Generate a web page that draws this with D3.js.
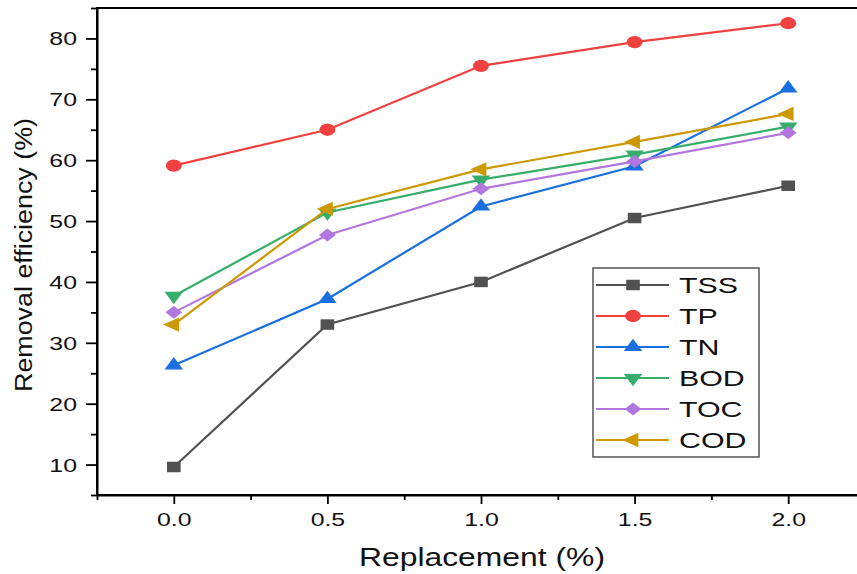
<!DOCTYPE html>
<html lang="en">
<head>
  <meta charset="UTF-8">
  <title>Removal efficiency vs replacement</title>
  <script src="https://d3js.org/d3.v7.min.js"></script>
  <style>
    body { margin: 0; background: #fff; }
    text { font-family: "Liberation Sans", Arial, sans-serif; fill: #111; }
    .axis path, .axis line { stroke: #000; }
    .line { fill: none; stroke-width: 2.2px; }
  </style>
</head>
<body>
  <svg width="857" height="574"></svg>
  <script>
    // data
    var replacement = [0, 0.5, 1.0, 1.5, 2.0];
    var tss = [9.6, 33.0, 40.0, 50.5, 55.8];
    var tp  = [59.1, 65.0, 75.5, 79.4, 82.5];
    var tn  = [26.3, 37.2, 52.4, 59.0, 71.8];
    var bod = [37.7, 51.4, 56.8, 60.9, 65.5];
    var toc = [35.0, 47.7, 55.3, 59.8, 64.5];
    var cod = [33.0, 52.0, 58.5, 63.0, 67.6];
    var seriesNames = ["TSS", "TP", "TN", "BOD", "TOC", "COD"];
    var xTicks = [0, 0.5, 1.0, 1.5, 2.0];
    var yTicks = [10, 20, 30, 40, 50, 60, 70, 80];

    var colors = ["#515151", "#F14040", "#1A6FDF", "#37AD6B", "#B177DE", "#CC9900"];
    // symbol, size, rotation
    var markers = [
      [d3.symbolSquare, 110, 0],
      [d3.symbolCircle, 118, 0],
      [d3.symbolTriangle, 88, 0],
      [d3.symbolTriangle, 88, 180],
      [d3.symbolSquare, 84, 45],
      [d3.symbolTriangle, 88, -90]
    ];
    var stretch = 1.38;   // the figure's text is drawn wide
    var mstretch = 1.3;

    var series = [tss, tp, tn, bod, toc, cod].map(function(vals, i) {
      return { key: seriesNames[i], values: vals.map(function(v, j) { return { x: replacement[j], y: v }; }) };
    });

    var svg = d3.select("svg");
    var x = d3.scaleLinear().domain([-0.25, 2.25]).range([97, 865]);
    var y = d3.scaleLinear().domain([5, 85]).range([495, 8]);

    // frame (top/right edges)
    svg.append("rect")
       .attr("x", x(-0.25)).attr("y", y(85))
       .attr("width", x(2.25) - x(-0.25)).attr("height", y(5) - y(85))
       .attr("fill", "none").attr("stroke", "#000").attr("stroke-width", 2);

    // minor ticks
    svg.append("g").attr("class", "axis")
       .attr("transform", "translate(0," + y(5) + ")")
       .call(d3.axisBottom(x).tickValues([-0.25, 0.25, 0.75, 1.25, 1.75, 2.25]).tickSize(5).tickFormat(""))
       .call(function(g) { g.select(".domain").remove(); g.selectAll("line").attr("stroke-width", 1.8); });
    svg.append("g").attr("class", "axis")
       .attr("transform", "translate(" + x(-0.25) + ",0)")
       .call(d3.axisLeft(y).tickValues(d3.range(5, 86, 10)).tickSize(6).tickFormat(""))
       .call(function(g) { g.select(".domain").remove(); g.selectAll("line").attr("stroke-width", 1.8); });

    // major axes
    var xAxis = svg.append("g").attr("class", "axis")
       .attr("transform", "translate(0," + y(5) + ")")
       .call(d3.axisBottom(x).tickValues(xTicks).tickSize(9).tickSizeOuter(0).tickFormat(d3.format(".1f")));
    xAxis.select(".domain").attr("stroke-width", 2);
    xAxis.selectAll("line").attr("stroke-width", 1.8);
    xAxis.selectAll("text")
         .attr("y", null).attr("dy", null)
         .attr("font-size", 18)
         .attr("transform", "translate(0,31) scale(" + stretch + ",1)");

    var yAxis = svg.append("g").attr("class", "axis")
       .attr("transform", "translate(" + x(-0.25) + ",0)")
       .call(d3.axisLeft(y).tickValues(yTicks).tickSize(11).tickSizeOuter(0));
    yAxis.select(".domain").attr("stroke-width", 2);
    yAxis.selectAll("line").attr("stroke-width", 1.8);
    yAxis.selectAll("text")
         .attr("x", null).attr("dy", "0.36em")
         .attr("font-size", 18)
         .attr("transform", "translate(-20,0) scale(" + stretch + ",1)");
    svg.selectAll(".axis text").attr("fill", "#111").attr("font-family", "Liberation Sans, Arial, sans-serif");

    // axis titles
    svg.append("text")
       .attr("x", 359).attr("y", 565.5)
       .attr("font-size", 25)
       .attr("textLength", 246).attr("lengthAdjust", "spacingAndGlyphs")
       .text("Replacement (%)");
    svg.append("text")
       .attr("transform", "translate(32,392) rotate(-90)")
       .attr("font-size", 23)
       .attr("textLength", 274).attr("lengthAdjust", "spacingAndGlyphs")
       .text("Removal efficiency (%)");

    function markerPath(i) {
      return d3.symbol().type(markers[i][0]).size(markers[i][1])();
    }
    function markerTransform(px, py, i) {
      return "translate(" + px + "," + py + ") scale(" + mstretch + ",1) rotate(" + markers[i][2] + ")";
    }

    var line = d3.line().x(function(d) { return x(d.x); }).y(function(d) { return y(d.y); });

    var serie = svg.selectAll(".serie").data(series).enter().append("g").attr("class", "serie");
    serie.append("path")
         .attr("class", "line")
         .attr("stroke", function(d, i) { return colors[i]; })
         .attr("d", function(d) { return line(d.values); });
    serie.each(function(s, i) {
      d3.select(this).selectAll(".pt").data(s.values).enter().append("path")
        .attr("class", "pt")
        .attr("fill", colors[i])
        .attr("d", markerPath(i))
        .attr("transform", function(d) { return markerTransform(x(d.x), y(d.y), i); });
    });

    // legend
    var legend = svg.append("g");
    legend.append("rect")
          .attr("x", 593).attr("y", 268).attr("width", 166).attr("height", 189)
          .attr("fill", "#fff").attr("stroke", "#555").attr("stroke-width", 1.5);
    var item = legend.selectAll(".item").data(seriesNames).enter().append("g")
          .attr("transform", function(d, i) { return "translate(0," + (285 + i * 31) + ")"; });
    item.append("line")
        .attr("x1", 596).attr("x2", 669)
        .attr("stroke", function(d, i) { return colors[i]; })
        .attr("stroke-width", 2.2);
    item.append("path")
        .attr("fill", function(d, i) { return colors[i]; })
        .attr("d", function(d, i) { return markerPath(i); })
        .attr("transform", function(d, i) { return markerTransform(633, 0, i); });
    item.append("text")
        .attr("font-size", 22)
        .attr("transform", "translate(679,8) scale(" + stretch + ",1)")
        .text(function(d) { return d; });
  </script>
</body>
</html>
